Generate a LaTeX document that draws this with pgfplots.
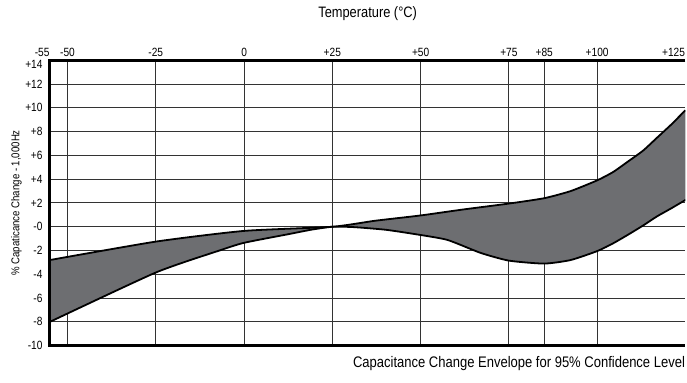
\documentclass[border=0pt]{standalone}
\usepackage{pgfplots}
\pgfplotsset{compat=1.18}
\usepackage{pgfplotstable}
\usepgfplotslibrary{fillbetween}
\usepackage{fontspec}
\setmainfont{Liberation Sans}[FakeStretch=0.85]
\definecolor{envgray}{RGB}{109,110,113}

% upper and lower edge of the envelope
\pgfplotstableread{
temp dc
-55 -2.8
-25 -1.25
0 -0.35
25 0
37 0.5
50 0.95
62 1.45
75 1.95
85 2.4
92.5 3.0
100 3.9
104.5 4.6
108.8 5.5
113 6.4
117 7.5
121 8.6
125 9.8
}\upperenv

\pgfplotstableread{
temp dc
-55 -8
-25 -3.85
-7 -2.0
0 -1.35
13 -0.6
19 -0.25
25 0
31 -0.03
40 -0.25
48 -0.6
57.5 -1.1
67 -2.2
75 -2.85
85 -3.1
92.5 -2.8
100 -2.05
104.5 -1.4
108.8 -0.66
113 0.1
117 0.88
121 1.55
125 2.25
}\lowerenv

\begin{document}
\begin{tikzpicture}
\begin{axis}[
    at={(0,0)}, anchor=south west,
    scale only axis, width=318.5bp, height=143bp,
    xmin=-55, xmax=125, ymin=-10, ymax=14,
    axis line style={draw=none},
    major tick length=0pt,
    xtick={-50,-25,0,25,50,75,85,100},
    xticklabels={-50,-25,0,+25,+50,+75,+85,+100},
    extra x ticks={-55,125},
    extra x tick labels={-55,+125},
    extra x tick style={grid=none, xticklabel style={anchor=base east}},
    xticklabel pos=upper,
    xticklabel style={anchor=base, inner sep=0pt, yshift=1.7bp},
    ytick={-10,-8,...,12},
    yticklabels={-10,-8,-6,-4,-2,-0,+2,+4,+6,+8,+10,+12},
    extra y ticks={14},
    extra y tick labels={+14},
    extra y tick style={grid=none, yticklabel style={yshift=-2.2bp}},
    yticklabel style={anchor=east, inner sep=0pt, xshift=-3.5bp},
    tick label style={font=\fontsize{6}{7}\selectfont},
    /pgf/number format/assume math mode=true,
    grid=major,
    major grid style={black!80, line width=0.5bp},
    title={Temperature (°C)},
    title style={at={(axis description cs:0.5,1.108)}, anchor=base, font=\fontsize{7.6}{9}\selectfont},
    xlabel={Capacitance Change Envelope for 95\% Confidence Level},
    xlabel style={at={(axis description cs:1,-0.077)}, anchor=base east, inner sep=0pt, font=\fontsize{7.7}{9}\selectfont},
    ylabel={\% Capaticance Change - 1,000Hz},
    ylabel style={at={(axis description cs:-0.0526,0.5)}, anchor=center, font=\fontsize{5.7}{6}\selectfont},
]
\addplot[draw=none, smooth, tension=0.35, name path=up] table[x=temp, y=dc] {\upperenv};
\addplot[draw=none, smooth, tension=0.35, name path=lo] table[x=temp, y=dc] {\lowerenv};
\addplot[fill=envgray] fill between[of=up and lo];
\addplot[black, line width=0.9bp, smooth, tension=0.35] table[x=temp, y=dc] {\upperenv};
\addplot[black, line width=0.9bp, smooth, tension=0.35] table[x=temp, y=dc] {\lowerenv};
\end{axis}
\draw[line width=1.6bp] (318.5bp,143bp) -- (0,143bp) -- (0,0) -- (318.5bp,0);
\path (-25bp,-18.5bp) rectangle (318.5bp,168bp);
\end{tikzpicture}
\end{document}
